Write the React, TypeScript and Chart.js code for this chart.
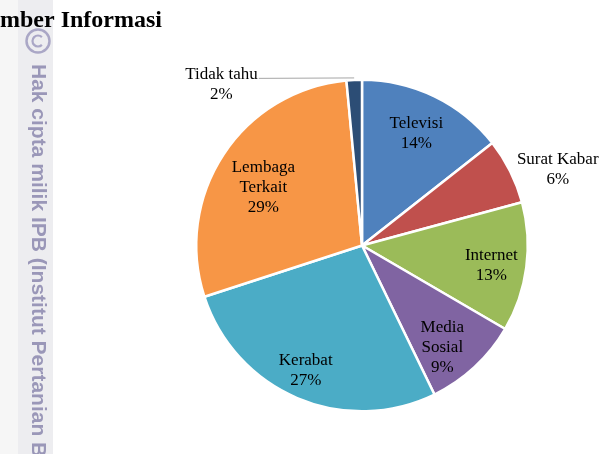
import React, { useEffect, useRef } from "react";
import { Chart, registerables } from "chart.js";

Chart.register(...registerables);

const categories = ["Televisi", "Surat Kabar", "Internet", "Media Sosial", "Kerabat", "Lembaga Terkait", "Tidak tahu"];
const labelLines = [["Televisi"], ["Surat Kabar"], ["Internet"], ["Media", "Sosial"], ["Kerabat"], ["Lembaga", "Terkait"], ["Tidak tahu"]];
const values = [14.4, 6.4, 12.6, 9.4, 27.2, 28.5, 1.5];
const colors = ["#4f81bd", "#c0504d", "#9bbb59", "#8064a2", "#4bacc6", "#f79646", "#2c4d75"];
const titleText = "mber Informasi";
const watermarkText = "Hak cipta milik IPB (Institut Pertanian Bogor)";

// label placement: radius fraction and angle offset (deg)
const labelPlace = [
  { r: 0.75, da: 0 },
  { r: 1.267, da: 5.4 },
  { r: 0.79, da: 1.4 },
  { r: 0.783, da: 4.6 },
  { r: 0.827, da: 1.2 },
  { r: 0.69, da: -2.9 },
  { r: 1.29, da: -38.4 },
];

const bgPlugin = {
  id: "bgDecor",
  beforeDraw(chart: any) {
    const ctx = chart.ctx;
    ctx.save();
    ctx.fillStyle = "#ffffff";
    ctx.fillRect(0, 0, chart.width, chart.height);
    ctx.fillStyle = "#f6f6f6";
    ctx.fillRect(0, 0, 18, chart.height);
    ctx.fillStyle = "#ededf0";
    ctx.fillRect(18, 0, 35, chart.height);
    // copyright circle
    ctx.strokeStyle = "#aaa7c6";
    ctx.lineWidth = 2.5;
    ctx.beginPath();
    ctx.arc(38, 41, 11.5, 0, Math.PI * 2);
    ctx.stroke();
    ctx.lineWidth = 2.2;
    ctx.beginPath();
    ctx.arc(38, 41, 5.5, Math.PI * 0.25, Math.PI * 1.75);
    ctx.stroke();
    // vertical watermark text
    ctx.translate(38, 64);
    ctx.rotate(Math.PI / 2);
    ctx.fillStyle = "#9a97b8";
    ctx.font = "bold 21px 'Liberation Sans', Arial, sans-serif";
    ctx.textAlign = "left";
    ctx.textBaseline = "middle";
    ctx.fillText(watermarkText, 0, 0);
    ctx.restore();
    // title
    ctx.save();
    ctx.fillStyle = "#000000";
    ctx.font = "bold 24px 'Liberation Serif', 'Times New Roman', serif";
    ctx.textAlign = "left";
    ctx.textBaseline = "alphabetic";
    ctx.fillText(titleText, 0, 27);
    ctx.restore();
  },
};

const labelPlugin = {
  id: "sliceLabels",
  afterDatasetsDraw(chart: any) {
    const ctx = chart.ctx;
    const meta = chart.getDatasetMeta(0);
    const data = chart.data.datasets[0].data as number[];
    ctx.save();
    ctx.font = "17px 'Liberation Serif', 'Times New Roman', serif";
    ctx.fillStyle = "#000000";
    ctx.textAlign = "center";
    ctx.textBaseline = "middle";
    const lh = 20;
    meta.data.forEach((arc: any, i: number) => {
      const p = arc.getProps(["x", "y", "startAngle", "endAngle", "outerRadius"], true);
      const mid = (p.startAngle + p.endAngle) / 2 + (labelPlace[i].da * Math.PI) / 180;
      const rr = p.outerRadius * labelPlace[i].r;
      const cx = p.x + Math.cos(mid) * rr;
      const cy = p.y + Math.sin(mid) * rr;
      const lines = [...labelLines[i], Math.round(data[i]) + "%"];
      const top = cy - ((lines.length - 1) * lh) / 2;
      lines.forEach((t, k) => ctx.fillText(t, cx, top + k * lh));
      if (i === labelLines.length - 1) {
        const m0 = (p.startAngle + p.endAngle) / 2;
        const ex = p.x + Math.cos(m0) * (p.outerRadius + 1);
        const ey = p.y + Math.sin(m0) * (p.outerRadius + 1);
        const w = ctx.measureText(lines[0]).width;
        ctx.strokeStyle = "#a6a6a6";
        ctx.lineWidth = 1;
        ctx.beginPath();
        ctx.moveTo(cx + w / 2 + 1, top + 4);
        ctx.lineTo(ex, ey - 1);
        ctx.stroke();
      }
    });
    ctx.restore();
  },
};

export default function App() {
  const ref = useRef<HTMLCanvasElement>(null);
  useEffect(() => {
    document.body.style.margin = "0";
    const chart = new Chart(ref.current as HTMLCanvasElement, {
      type: "pie",
      data: {
        labels: categories,
        datasets: [
          {
            data: values,
            backgroundColor: colors,
            borderColor: "#ffffff",
            borderWidth: 2.5,
          },
        ],
      },
      options: {
        responsive: false,
        animation: false,
        layout: { padding: { left: 195, right: 85, top: 78, bottom: 41 } },
        plugins: { legend: { display: false }, tooltip: { enabled: false } },
      },
      plugins: [bgPlugin, labelPlugin],
    });
    return () => chart.destroy();
  }, []);
  return (
    <div style={{ position: "fixed", left: 0, top: 0, width: 614, height: 454 }}>
      <canvas ref={ref} width={614} height={454} />
    </div>
  );
}
